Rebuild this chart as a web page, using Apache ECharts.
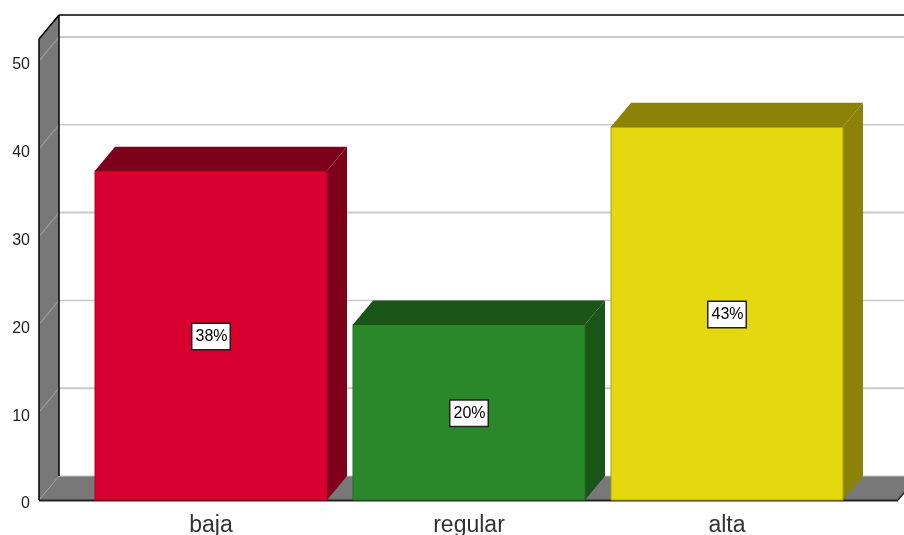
<!DOCTYPE html>
<html><head><meta charset="utf-8">
<style>html,body{margin:0;padding:0;background:#fff}#c{width:904px;height:535px}</style>
<script src="https://cdn.jsdelivr.net/npm/echarts@6/dist/echarts.min.js"></script>
</head><body><div id="c"></div>
<script>
const categories = ["baja", "regular", "alta"];
const values = [37.5, 20, 42.5];
const percentLabels = ["38%", "20%", "43%"];
const yTicks = [0, 10, 20, 30, 40, 50];
const frontColors = ["#d8002f", "#2a882a", "#e4d80e"];
const sideColors = ["#7e001b", "#1a5518", "#8c8208"];
const edgeColors = ["#b00026", "#226e22", "#a9a00c"];

const DX = 20, DY = -24, WALL_LEFT_GAP = 43, RIGHT_FRONT = 898, TOP_VALUE = 52.5;
const WALL = "#787878", GRID = "#c9c9c9";
const chart = echarts.init(document.getElementById("c"), null, {renderer: "canvas"});

function poly(points, fill, stroke, lw) {
  return {type: "polygon", shape: {points}, style: {fill, stroke: stroke || null, lineWidth: lw || 0}};
}
function line(x1, y1, x2, y2, stroke, lw) {
  return {type: "line", shape: {x1, y1, x2, y2}, style: {stroke, lineWidth: lw || 1}};
}
function renderFrame(params, api) {
  const y0 = api.coord([0, 0])[1];
  const yTop = api.coord([0, TOP_VALUE])[1];
  const xL = params.coordSys.x - WALL_LEFT_GAP;
  const kids = [];
  kids.push(poly([[xL, y0], [xL + DX, y0 + DY], [RIGHT_FRONT + DX, y0 + DY], [RIGHT_FRONT, y0]], WALL));
  kids.push(poly([[xL, yTop], [xL + DX, yTop + DY], [xL + DX, y0 + DY], [xL, y0]], WALL));
  yTicks.forEach(t => {
    if (t === 0) return;
    const y = api.coord([0, t])[1];
    kids.push(line(xL, y, xL + DX, y + DY, "#9a9a9a", 1.2));
    kids.push(line(xL + DX, y + DY, 904, y + DY, GRID, t % 20 === 10 || t === 50 ? 2 : 1.5));
  });
  kids.push(line(xL, y0, xL + DX, y0 + DY, "#9a9a9a", 1));
  kids.push(line(xL + DX, y0 + DY, 904, y0 + DY, "#c4c4c4", 1));
  kids.push(line(xL, yTop, xL, y0, "#000", 1.5));
  kids.push(line(xL + DX, yTop + DY, xL + DX, y0 + DY, "#000", 1.5));
  kids.push(line(xL, yTop, xL + DX, yTop + DY, "#000", 1.5));
  kids.push(line(xL + DX, yTop + DY, 904, yTop + DY, "#000", 1.5));
  kids.push(line(xL, y0 + 0.5, RIGHT_FRONT, y0 + 0.5, "#222", 2));
  kids.push(line(RIGHT_FRONT, y0, RIGHT_FRONT + DX, y0 + DY, "#222", 1.5));
  return {type: "group", children: kids};
}
function renderBar(params, api) {
  const i = api.value(0), v = api.value(1);
  const top = api.coord([i, v]), base = api.coord([i, 0]);
  const half = 116;
  const l = top[0] - half, r = top[0] + half, t = top[1], b = base[1];
  const side = sideColors[i], front = frontColors[i], edge = edgeColors[i];
  return {type: "group", children: [
    poly([[l, t], [l + DX, t + DY], [r + DX, t + DY], [r, t]], side),
    poly([[r, t], [r + DX, t + DY], [r + DX, b + DY], [r, b]], side),
    {type: "rect", shape: {x: l, y: t, width: r - l, height: b - t},
      style: {fill: front, stroke: edge, lineWidth: 1}},
    line(l, t, r, t, "#00000055", 1),
    {type: "text", x: top[0], y: (t + b) / 2 + 1, style: {
      text: percentLabels[i], fill: "#000", font: "16px 'Liberation Sans'",
      align: "center", verticalAlign: "middle",
      backgroundColor: "#fff", borderColor: "#222", borderWidth: 1.5,
      padding: [5, 2, 4, 3]
    }}
  ]};
}
chart.setOption({
  animation: false,
  backgroundColor: "#fff",
  grid: {left: 82, width: 774, top: 61, height: 439, outerBoundsMode: "none"},
  xAxis: {
    type: "category", data: categories,
    axisLine: {show: false}, axisTick: {show: false},
    axisLabel: {color: "#333", fontFamily: "Liberation Sans", fontSize: 23, margin: 14}
  },
  yAxis: {
    type: "value", min: 0, max: 50, interval: 10, offset: WALL_LEFT_GAP,
    axisLine: {show: false}, axisTick: {show: false}, splitLine: {show: false},
    axisLabel: {color: "#222", fontFamily: "Liberation Sans", fontSize: 16, margin: 9, verticalAlign: "top", lineHeight: 8}
  },
  series: [
    {type: "custom", coordinateSystem: "cartesian2d", clip: false, silent: true, z: 1,
      renderItem: renderFrame, data: [[0, 0]]},
    {type: "custom", coordinateSystem: "cartesian2d", clip: false, silent: true, z: 2,
      renderItem: renderBar, data: values.map((v, i) => [i, v])}
  ]
});
</script></body></html>
